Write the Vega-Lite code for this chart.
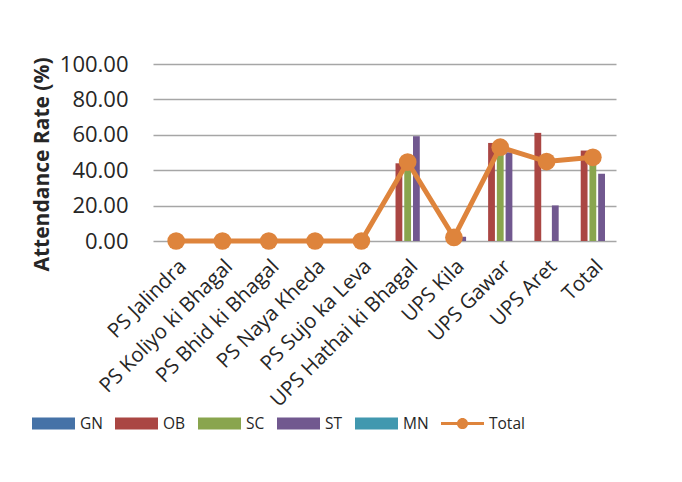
{
  "$schema": "https://vega.github.io/schema/vega-lite/v6.json",
  "width": 463,
  "height": 177,
  "autosize": {"type": "none"},
  "padding": {"left": 153, "top": 64, "right": 66, "bottom": 241},
  "background": "white",
  "config": {"view": {"stroke": null}, "font": "Open Sans"},
  "datasets": {
    "bars": [
      {"school": "UPS Hathai ki Bhagal", "group": "OB", "value": 43.9},
      {"school": "UPS Hathai ki Bhagal", "group": "SC", "value": 40.0},
      {"school": "UPS Hathai ki Bhagal", "group": "ST", "value": 59.2},
      {"school": "UPS Kila", "group": "ST", "value": 2.4},
      {"school": "UPS Gawar", "group": "OB", "value": 55.4},
      {"school": "UPS Gawar", "group": "SC", "value": 53.0},
      {"school": "UPS Gawar", "group": "ST", "value": 50.1},
      {"school": "UPS Aret", "group": "OB", "value": 61.1},
      {"school": "UPS Aret", "group": "ST", "value": 20.1},
      {"school": "Total", "group": "OB", "value": 51.1},
      {"school": "Total", "group": "SC", "value": 46.0},
      {"school": "Total", "group": "ST", "value": 38.0}
    ],
    "total": [
      {"school": "PS Jalindra", "group": "Total", "value": 0},
      {"school": "PS Koliyo ki Bhagal", "group": "Total", "value": 0},
      {"school": "PS Bhid ki Bhagal", "group": "Total", "value": 0},
      {"school": "PS Naya Kheda", "group": "Total", "value": 0},
      {"school": "PS Sujo ka Leva", "group": "Total", "value": 0},
      {"school": "UPS Hathai ki Bhagal", "group": "Total", "value": 44.6},
      {"school": "UPS Kila", "group": "Total", "value": 2.0},
      {"school": "UPS Gawar", "group": "Total", "value": 53.0},
      {"school": "UPS Aret", "group": "Total", "value": 44.9},
      {"school": "Total", "group": "Total", "value": 47.3}
    ]
  },
  "encoding": {
    "x": {
      "field": "school",
      "type": "nominal",
      "scale": {
        "domain": ["PS Jalindra", "PS Koliyo ki Bhagal", "PS Bhid ki Bhagal", "PS Naya Kheda", "PS Sujo ka Leva", "UPS Hathai ki Bhagal", "UPS Kila", "UPS Gawar", "UPS Aret", "Total"],
        "paddingInner": 0.08,
        "paddingOuter": 0.04
      },
      "axis": {
        "title": null,
        "labelAngle": -45,
        "labelFontSize": 20.5,
        "labelColor": "#262626",
        "labelLimit": 0,
        "ticks": false,
        "domain": false,
        "grid": false,
        "labelPadding": 15
      }
    },
    "y": {
      "field": "value",
      "type": "quantitative",
      "scale": {"domain": [0, 100], "nice": false},
      "axis": {
        "title": "Attendance Rate (%)",
        "titleFontSize": 21,
        "titleFontWeight": "bold",
        "titleColor": "#262626",
        "titlePadding": 7,
        "titleY": 100,
        "values": [0, 20, 40, 60, 80, 100],
        "format": ".2f",
        "labelFontSize": 22,
        "labelColor": "#262626",
        "labelPadding": 25,
        "ticks": false,
        "domain": false,
        "grid": true,
        "gridColor": "#A6A6A6",
        "gridWidth": 1.5
      }
    },
    "color": {
      "field": "group",
      "type": "nominal",
      "scale": {
        "domain": ["GN", "OB", "SC", "ST", "MN", "Total"],
        "range": ["#4572A7", "#AA4643", "#89A54E", "#71588F", "#4198AF", "#DE843C"]
      },
      "legend": {
        "orient": "none",
        "legendX": -121,
        "legendY": 338,
        "direction": "horizontal",
        "title": null,
        "symbolSize": 1849,
        "labelFontSize": 15.5,
        "labelColor": "#262626",
        "labelOffset": 5,
        "columnPadding": 12,
        "encode": {
          "symbols": {
            "update": {
              "shape": {"signal": "datum.value === 'Total' ? 'M-1,-0.065H1V0.065H-1Z M-0.26,0A0.26,0.26 0 1,1 0.26,0A0.26,0.26 0 1,1 -0.26,0Z' : 'M-1,-0.28H1V0.28H-1Z'"},
              "fill": {"signal": "scale('color', datum.value)"},
              "stroke": {"value": "transparent"},
              "strokeWidth": {"value": 0},
              "opacity": {"value": 1},
              "fillOpacity": {"value": 1}
            }
          }
        }
      }
    }
  },
  "layer": [
    {
      "data": {"name": "bars"},
      "mark": {"type": "bar"},
      "encoding": {
        "xOffset": {
          "field": "group",
          "type": "nominal",
          "scale": {"domain": ["GN", "OB", "SC", "ST", "MN"], "paddingInner": 0.22, "paddingOuter": 0.05}
        }
      }
    },
    {
      "data": {"name": "total"},
      "mark": {"type": "line", "strokeWidth": 5},
      "encoding": {}
    },
    {
      "data": {"name": "total"},
      "mark": {"type": "point", "filled": true, "size": 314, "opacity": 1},
      "encoding": {}
    }
  ]
}
